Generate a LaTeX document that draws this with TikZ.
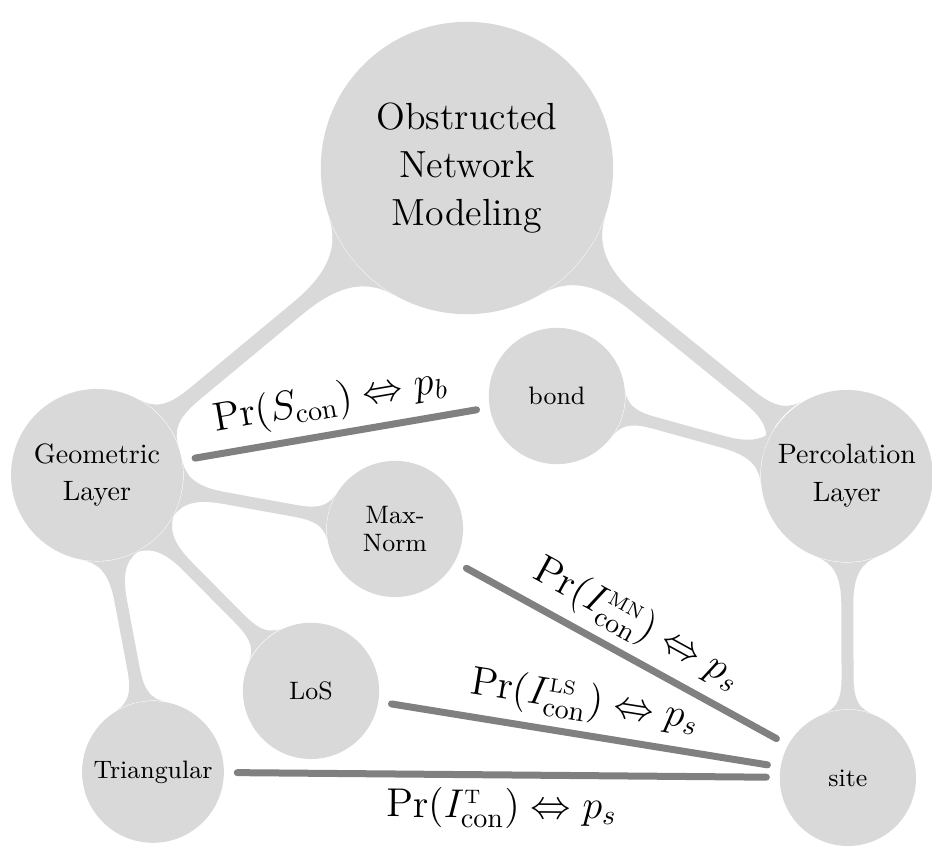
\documentclass[tikz,border=0pt]{standalone}
\usetikzlibrary{mindmap}
\begin{document}
\begin{tikzpicture}[
  bubble/.style={circle, fill=gray!30, inner sep=0pt, align=center},
  top bubble/.style={bubble, minimum size=3.67cm, font=\fontsize{13.5}{17}\selectfont},
  layer bubble/.style={bubble, minimum size=2.16cm, font=\fontsize{10}{13.5}\selectfont},
  leaf bubble/.style={bubble, minimum size=1.71cm, font=\fontsize{9}{10}\selectfont},
  stem/.style={circle connection bar switch color=from (gray!30) to (gray!30)},
  link/.style={gray, line width=2.5pt, line cap=round, shorten <=4.6pt, shorten >=4.6pt},
  rel/.style={midway, sloped, text=black, font=\Large}
]
\useasboundingbox (0,0) rectangle (11.70,-10.61);

% concepts
\node[top bubble] (onm) at (5.862,-2.109) {Obstructed\\Network\\Modeling};
\node[layer bubble] (geo) at (1.218,-5.962) {Geometric\\Layer};
\node[layer bubble] (perc) at (10.631,-5.975) {Percolation\\Layer};
\node[leaf bubble] (bond) at (6.991,-4.971) {bond};
\node[leaf bubble] (maxn) at (4.958,-6.640) {Max-\\Norm};
\node[leaf bubble] (los) at (3.904,-8.673) {LoS};
\node[leaf bubble, minimum size=1.78cm] (tri) at (1.920,-9.690) {Triangular};
\node[leaf bubble] (site) at (10.644,-9.765) {site};

% tree bars
\path (onm) to[stem] (geo);
\path (onm) to[stem] (perc);
\path (geo) to[stem] (maxn);
\path (geo) to[stem] (los);
\path (geo) to[stem] (tri);
\path (perc) to[stem] (bond);
\path (perc) to[stem] (site);

% equivalences
\draw[link] (geo) -- (bond) node[rel, above] {$\Pr(S_{\mathrm{con}}) \Leftrightarrow p_b$};
\draw[link] (maxn) -- (site) node[rel, above] {$\Pr(I^{\scriptscriptstyle\mathrm{MN}}_{\mathrm{con}}) \Leftrightarrow p_s$};
\draw[link] (los) -- (site) node[rel, above] {$\Pr(I^{\scriptscriptstyle\mathrm{LS}}_{\mathrm{con}}) \Leftrightarrow p_s$};
\draw[link] (tri) -- (site) node[rel, below] {$\Pr(I^{\scriptscriptstyle\mathrm{T}}_{\mathrm{con}}) \Leftrightarrow p_s$};
\end{tikzpicture}
\end{document}
